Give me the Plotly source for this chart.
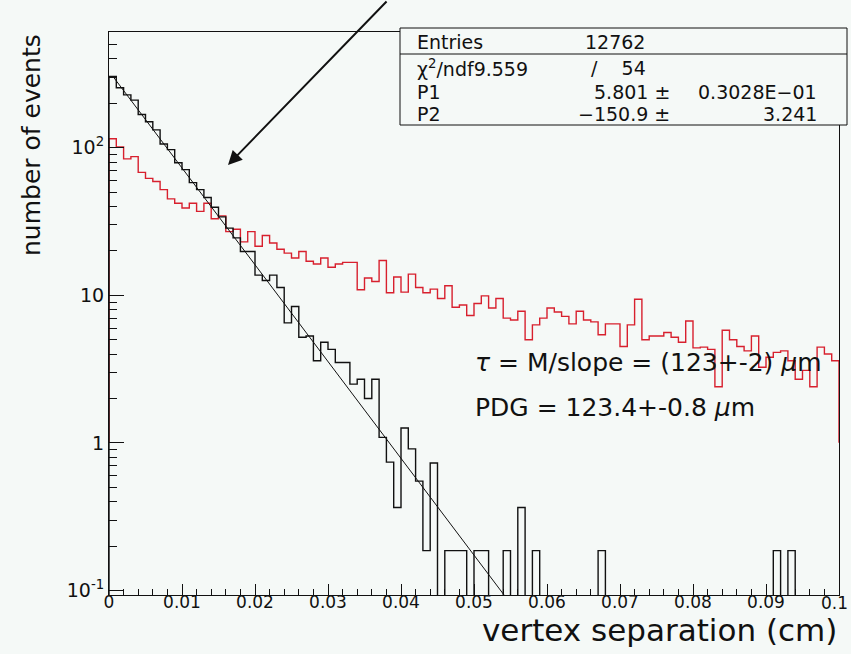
import numpy as np
import plotly.graph_objects as go

# ---------------- data ----------------
n_bins = 100
x_min, x_max = 0.0, 0.1

# black histogram (events per bin), bins of width 0.001 cm
black_counts = [
    304, 255, 228, 210, 168, 150, 132, 106, 97, 79,
    71, 58, 52, 46, 39.5, 34, 28.5, 24.5, 19.8, 19.8,
    13.7, 12.6, 13.7, 11.3, 6.5, 8.4, 5.2, 5.3, 3.6, 4.8,
    4.3, 3.5, 3.5, 2.5, 2.7, 2.0, 2.7, 1.09, 0.74, 0.365,
    1.26, 0.91, 0.55, 0.186, 0.73, 0, 0.186, 0.186, 0.186, 0,
    0.186, 0.186, 0, 0, 0.186, 0, 0.365, 0, 0.186, 0,
    0, 0, 0, 0, 0, 0, 0, 0.186, 0, 0,
    0, 0, 0, 0, 0, 0, 0, 0, 0, 0,
    0, 0, 0, 0, 0, 0, 0, 0, 0, 0,
    0, 0.186, 0, 0.186, 0, 0, 0, 0, 0, 0,
]

# red histogram
red_counts = [
    115, 101, 84, 87, 68, 62, 59, 52, 45, 42,
    39, 42, 37, 42, 33, 34.5, 27, 28, 23, 27,
    21.5, 25.4, 22.6, 20.5, 19.3, 17.9, 19.8, 17, 16.3, 17.9,
    15.5, 16.3, 16.7, 16.7, 10.9, 13.1, 12.4, 17.2, 10.4, 13.3,
    10.5, 13.9, 11.3, 10.4, 11, 9.5, 11.6, 8.3, 8.6, 7.3,
    8.8, 9.9, 8.2, 9.5, 7.0, 6.8, 7.8, 5.0, 6.3, 7.0,
    8.2, 7.7, 7.2, 6.4, 7.8, 6.8, 6.6, 5.4, 6.4, 6.4,
    4.5, 6.3, 9.4, 5.0, 5.3, 5.3, 5.6, 5.2, 4.8, 6.7,
    4.4, 4.45, 4.3, 2.4, 5.8, 5.0, 4.5, 4.2, 5.3, 3.25,
    3.8, 4.1, 4.2, 3.6, 2.7, 3.1, 2.4, 4.45, 4.0, 3.6,
]

# fitted exponential drawn as a straight line on the log scale (end points)
fit_x = [0.0005, 0.0548]
fit_y = [306, 0.084]

x_tick_vals = [0, 0.01, 0.02, 0.03, 0.04, 0.05, 0.06, 0.07, 0.08, 0.09, 0.1]
x_tick_text = ["0", "0.01", "0.02", "0.03", "0.04", "0.05", "0.06", "0.07", "0.08", "0.09", "0.1"]
y_tick_vals = [0.1, 1, 10, 100]
y_tick_text = ["10<sup>-1</sup>", "1", "10", "10<sup>2</sup>"]

stats_rows = [
    ("Entries", "12762", ""),
    ("χ<sup>2</sup>/ndf9.559", "/    54", ""),
    ("P1", "5.801 ±", "0.3028E−01"),
    ("P2", "−150.9 ±", "3.241"),
]

x_title = "vertex separation (cm)"
y_title = "number of events"
note_tau = "<i>τ</i> = M/slope = (123+-2) <i>μ</i>m"
note_pdg = "PDG = 123.4+-0.8 <i>μ</i>m"

# ---------------- layout geometry ----------------
W, H = 851, 654
ML, MR, MT, MB = 109, 12, 32, 59
PW, PH = W - ML - MR, H - MT - MB
BG = "#f5f9f7"
FONT = "DejaVu Sans"


def px2paper(px, py):
    return (px - ML) / PW, (H - MB - py) / PH


edges = np.linspace(x_min, x_max, n_bins + 1)


def step_xy(vals, floor):
    v = np.asarray(vals, dtype=float)
    v = np.where(v > 0, v, 1e-4)
    xs = np.concatenate([[edges[0]], edges[:-1], [edges[-1], edges[-1]]])
    ys = np.concatenate([[floor], v, [v[-1], floor]])
    return xs, ys


fig = go.Figure()

rx, ry = step_xy(red_counts, 1.0)
fig.add_trace(go.Scatter(x=rx, y=ry, mode="lines", line=dict(color="#d8202e", width=1.4, shape="hv"),
                         hoverinfo="skip"))
bx, by = step_xy(black_counts, 1e-4)
fig.add_trace(go.Scatter(x=bx, y=by, mode="lines", line=dict(color="#111111", width=1.4, shape="hv"),
                         hoverinfo="skip"))
fig.add_trace(go.Scatter(x=fit_x, y=fit_y, mode="lines", line=dict(color="#111111", width=1),
                         hoverinfo="skip"))

y_minor = [k * 10.0 ** d for d in range(-1, 3) for k in range(2, 10)]

# the last x label sits on the window edge: it is drawn as a right-anchored annotation
axis_tick_text = x_tick_text[:-1] + [""]

fig.update_layout(
    width=W, height=H,
    margin=dict(l=ML, r=MR, t=MT, b=MB, autoexpand=False),
    paper_bgcolor=BG, plot_bgcolor=BG,
    showlegend=False,
    font=dict(family=FONT, color="#111111"),
    xaxis=dict(
        range=[x_min, x_max], showgrid=False, zeroline=False, automargin=False,
        showline=True, linecolor="#111111", linewidth=1, mirror=True,
        ticks="inside", ticklen=11, tickcolor="#111111",
        tickvals=x_tick_vals, ticktext=axis_tick_text, ticklabelstandoff=-8,
        ticklabeloverflow="allow",
        tickfont=dict(family=FONT, size=17, color="#111111"),
        minor=dict(dtick=0.002, tick0=0, ticks="inside", ticklen=6, tickcolor="#111111", showgrid=False),
    ),
    yaxis=dict(
        type="log", range=[-1.031, 2.784], showgrid=False, zeroline=False, automargin=False,
        showline=True, linecolor="#111111", linewidth=1, mirror=True,
        ticks="inside", ticklen=15, tickcolor="#111111",
        tickvals=y_tick_vals, ticktext=y_tick_text, ticklabeloverflow="allow",
        tickfont=dict(family=FONT, size=19, color="#111111"),
        minor=dict(tickvals=y_minor, ticks="inside", ticklen=8, tickcolor="#111111", showgrid=False),
    ),
)

shapes = []
annotations = []

# last x tick label
xa, ya = px2paper(850, 603)
annotations.append(dict(xref="paper", yref="paper", x=xa, y=ya, text=x_tick_text[-1], showarrow=False,
                        xanchor="right", yanchor="middle", font=dict(family=FONT, size=17)))

# stats box
bx0, by0 = px2paper(400, 125)
bx1, by1 = px2paper(847, 28)
shapes.append(dict(type="rect", xref="paper", yref="paper", x0=bx0, y0=by0, x1=bx1, y1=by1,
                   line=dict(color="#111111", width=1), fillcolor=BG, layer="above"))
sx0, sy = px2paper(400, 54)
shapes.append(dict(type="line", xref="paper", yref="paper", x0=bx0, y0=sy, x1=bx1, y1=sy,
                   line=dict(color="#111111", width=1), layer="above"))

row_y = [42, 68, 92, 114]
for (lab, mid, right), ry_px in zip(stats_rows, row_y):
    xa, ya = px2paper(415, ry_px)
    annotations.append(dict(xref="paper", yref="paper", x=xa, y=ya, text=lab, showarrow=False,
                            xanchor="left", yanchor="middle", font=dict(family=FONT, size=19)))
    if lab == "Entries":
        xm, _ = px2paper(583, ry_px)
        annotations.append(dict(xref="paper", yref="paper", x=xm, y=ya, text=mid, showarrow=False,
                                xanchor="left", yanchor="middle", font=dict(family=FONT, size=19)))
    elif lab.startswith("χ"):
        xm, _ = px2paper(648, ry_px)
        annotations.append(dict(xref="paper", yref="paper", x=xm, y=ya, text=mid, showarrow=False,
                                xanchor="right", yanchor="middle", font=dict(family=FONT, size=19)))
    else:
        xm, _ = px2paper(672, ry_px)
        annotations.append(dict(xref="paper", yref="paper", x=xm, y=ya, text=mid, showarrow=False,
                                xanchor="right", yanchor="middle", font=dict(family=FONT, size=19)))
        xr, _ = px2paper(819, ry_px)
        annotations.append(dict(xref="paper", yref="paper", x=xr, y=ya, text=right, showarrow=False,
                                xanchor="right", yanchor="middle", font=dict(family=FONT, size=19)))

# text notes
xa, ya = px2paper(473, 362)
annotations.append(dict(xref="paper", yref="paper", x=xa, y=ya, text=note_tau, showarrow=False,
                        xanchor="left", yanchor="middle", font=dict(family=FONT, size=25)))
xa, ya = px2paper(473, 407)
annotations.append(dict(xref="paper", yref="paper", x=xa, y=ya, text=note_pdg, showarrow=False,
                        xanchor="left", yanchor="middle", font=dict(family=FONT, size=25)))

# axis titles
xa, ya = px2paper(839, 630)
annotations.append(dict(xref="paper", yref="paper", x=xa, y=ya, text=x_title, showarrow=False,
                        xanchor="right", yanchor="middle", font=dict(family=FONT, size=31)))
xa, ya = px2paper(31, 145)
annotations.append(dict(xref="paper", yref="paper", x=xa, y=ya, text=y_title, showarrow=False,
                        textangle=-90, xanchor="center", yanchor="middle", font=dict(family=FONT, size=25)))

# arrow
hx, hy = px2paper(228, 165)
annotations.append(dict(xref="paper", yref="paper", x=hx, y=hy, text="", showarrow=True,
                        ax=388 - 228, ay=-2 - 165, axref="pixel", ayref="pixel",
                        arrowhead=2, arrowsize=1.4, arrowwidth=2, arrowcolor="#111111"))

fig.update_layout(shapes=shapes, annotations=annotations)
fig.write_html(
    "out.html",
    config={"displayModeBar": False},
    post_script="document.body.style.margin='0';document.body.style.background='#f5f9f7';",
)
